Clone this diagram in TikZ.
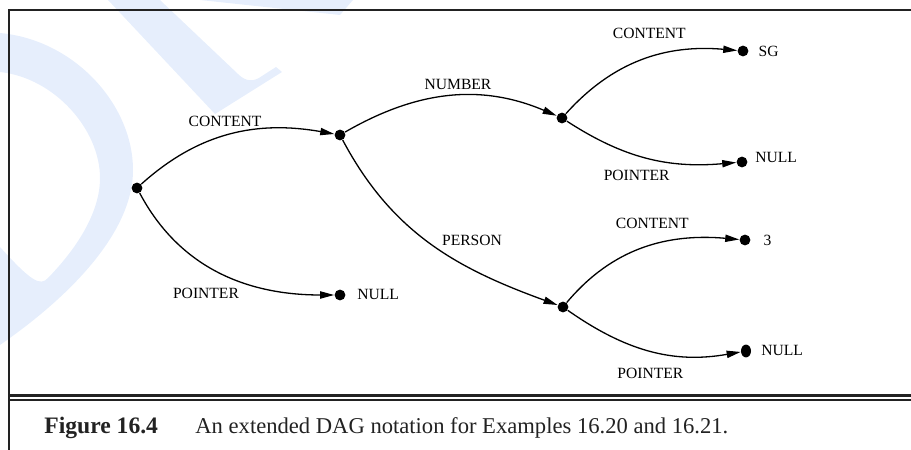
\documentclass[tikz,border=0pt]{standalone}
\usepackage{fontspec}
\setmainfont{Liberation Serif}
\usetikzlibrary{arrows.meta,shapes.geometric}
\definecolor{wmblue}{HTML}{E6EEFC}
\definecolor{rulegray}{HTML}{222222}
\begin{document}
\begin{tikzpicture}[x=0.5pt,y=0.5pt,
  dot/.style={circle,fill=black,inner sep=0pt,minimum size=5.4pt},
  arc/.style={line width=0.65pt,-{Triangle[length=7pt,width=3.6pt]}},
  lbl/.style={inner sep=0pt,anchor=base,font=\fontsize{7.8}{9}\selectfont},
  val/.style={inner sep=0pt,anchor=base west,font=\fontsize{7.8}{9}\selectfont},
  captxt/.style={inner sep=0pt,anchor=base west,text=rulegray},
]
\useasboundingbox (0,0) rectangle (911,450);

% light background lettering
\fill[wmblue] (0,417) .. controls (75,410) and (133,345) .. (133,280)
  .. controls (133,215) and (65,150) .. (0,105) -- (0,203)
  .. controls (30,170) and (40,163) .. (48,172)
  .. controls (80,205) and (100,240) .. (100,272)
  .. controls (100,320) and (55,372) .. (0,378) -- cycle;
\fill[wmblue] (108,450) -- (160,450) -- (238,376)
  .. controls (246,368) and (254,368) .. (262,374)
  -- (276,383) -- (282,378) -- (215,336) -- cycle;
\fill[wmblue] (200,450) -- (340,435) -- (353,450) -- cycle;

% frame and rules
\draw[rulegray,line width=1.05pt] (9.2,0) -- (9.2,439.7) -- (911,439.7);
\draw[rulegray,line width=1.35pt] (9.2,54.7) -- (911,54.7);
\draw[rulegray,line width=1pt] (9.2,49.7) -- (911,49.7);

% graph nodes
\node[dot] (r)  at (137,262) {};
\node[dot] (a)  at (340,315) {};
\node[dot] (n1) at (340,155) {};
\node[dot] (b)  at (562,332) {};
\node[dot] (sg) at (743,399) {};
\node[dot] (n2) at (742,288) {};
\node[dot] (c)  at (563,143) {};
\node[dot] (t3) at (745,210) {};
\node[dot,ellipse,minimum width=5pt,minimum height=6.4pt] (n3) at (746,99) {};

% arcs
\draw[arc] (r) to[out=42,in=170] (a);
\draw[arc] (r) to[out=-62,in=180] (n1);
\draw[arc] (a) to[out=30,in=157] (b);
\draw[arc] (a) to[out=-62,in=160] (c);
\draw[arc] (b) to[out=48,in=175] (sg);
\draw[arc] (b) to[out=-33,in=185] (n2);
\draw[arc] (c) to[out=50,in=175] (t3);
\draw[arc] (c) to[out=-35,in=190] (n3);

% arc labels
\node[lbl] (l1) at (225,323.5) {CONTENT};
\node[lbl] (l2) at (206,151.7) {POINTER};
\node[lbl] (l3) at (458,360.7) {NUMBER};
\node[lbl] (l4) at (472,204.3) {PERSON};
\node[lbl] (l5) at (649.3,411.7) {CONTENT};
\node[lbl] (l6) at (636.7,269) {POINTER};
\node[lbl] (l7) at (652.3,221.7) {CONTENT};
\node[lbl] (l8) at (650.3,71) {POINTER};

% values
\node[val] (v1) at (357,150.7) {NULL};
\node[val] (v2) at (758.3,393.3) {SG};
\node[val] (v3) at (755,287.7) {NULL};
\node[val] (v4) at (763.3,204.3) {3};
\node[val] (v5) at (761,94.3) {NULL};

% caption
\node[captxt,font=\fontsize{11.8}{14}\selectfont\bfseries] (fig) at (44,17) {Figure 16.4};
\node[captxt,font=\fontsize{11.3}{14}\selectfont] (cap) at (195,17) {An extended DAG notation for Examples 16.20 and 16.21.};
\end{tikzpicture}
\end{document}
